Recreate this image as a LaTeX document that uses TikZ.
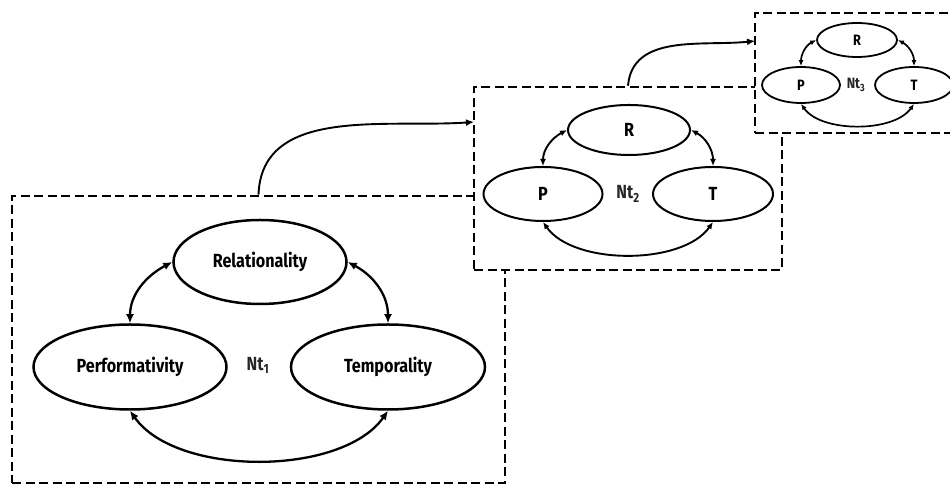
\documentclass[tikz,border=0pt]{standalone}
\usepackage{fontspec}
\setmainfont{Fira Sans}[FakeStretch=0.85]
\usetikzlibrary{shapes.geometric,arrows.meta}
\begin{document}
\begin{tikzpicture}[x=1pt,y=1pt,
  frame/.style={draw,dashed,dash pattern=on 9pt off 4.5pt,line width=2.6pt,fill=white,inner sep=0pt},
  ell/.style={draw,ellipse,inner sep=0pt,fill=white,font=\bfseries\fontsize{19}{22}\selectfont},
  ellA/.style={ell,line width=2.5pt},
  ellB/.style={ell,line width=2pt},
  ellC/.style={ell,line width=1.8pt,font=\bfseries\fontsize{15}{18}\selectfont},
  lab/.style={inner sep=0pt,text=black!85,font=\bfseries\fontsize{19}{22}\selectfont},
  tipA/.style={{Latex[length=9pt,width=8pt]}-{Latex[length=9pt,width=8pt]},line width=2.3pt},
  tipB/.style={{Latex[length=7pt,width=6pt]}-{Latex[length=7pt,width=6pt]},line width=1.9pt},
  tipC/.style={{Latex[length=6pt,width=5pt]}-{Latex[length=6pt,width=5pt]},line width=1.7pt},
  link/.style={-{Latex[length=8pt,width=7pt]},line width=1.9pt}
]
\clip (0,0) rectangle (950,486);
\useasboundingbox (0,0) rectangle (950,486);
% box 1
\node[frame,minimum width=493pt,minimum height=287pt] (b1) at (258.5,146.5) {};
\node[ellA,minimum width=173pt,minimum height=84pt] (r1) at (260,224) {Relationality};
\node[ellA,minimum width=193pt,minimum height=85pt] (p1) at (130,119) {Performativity};
\node[ellA,minimum width=194pt,minimum height=85pt] (t1) at (388,119) {Temporality};
\node[lab] (n1) at (258,121) {Nt\textsubscript{1}};
\draw[tipA] (r1.west) to[out=208,in=90] (p1.north);
\draw[tipA] (r1.east) to[out=-28,in=90] (t1.north);
\draw[tipA] (p1.south) to[out=-55,in=-125,looseness=0.8] (t1.south);
% box 2
\node[frame,minimum width=308pt,minimum height=183pt] (b2) at (628,307.5) {};
\node[ellB,minimum width=122pt,minimum height=50pt] (r2) at (629,356) {R};
\node[ellB,minimum width=119pt,minimum height=54pt] (p2) at (543,292) {P};
\node[ellB,minimum width=120pt,minimum height=54pt] (t2) at (713,292) {T};
\node[lab] (n2) at (628,292) {Nt\textsubscript{2}};
\draw[tipB] (r2.west) to[out=208,in=90] (p2.north);
\draw[tipB] (r2.east) to[out=-28,in=90] (t2.north);
\draw[tipB] (p2.south) to[out=-55,in=-125,looseness=0.8] (t2.south);
% box 3
\node[frame,minimum width=205pt,minimum height=120pt] (b3) at (857.5,413) {};
\node[ellC,minimum width=80pt,minimum height=34pt] (r3) at (857,446) {R};
\node[ellC,minimum width=78pt,minimum height=36pt] (p3) at (801,401) {P};
\node[ellC,minimum width=78pt,minimum height=36pt] (t3) at (914,401) {T};
\node[lab,font=\bfseries\fontsize{15}{18}\selectfont] (n3) at (856,401) {Nt\textsubscript{3}};
\draw[tipC] (r3.west) to[out=208,in=90] (p3.north);
\draw[tipC] (r3.east) to[out=-28,in=90] (t3.north);
\draw[tipC] (p3.south) to[out=-55,in=-125,looseness=0.8] (t3.south);
% links between boxes
\coordinate (e2) at (474,364);
\coordinate (e3) at (755,445);
\draw[link] (b1.north) to[out=88,in=184] (e2);
\draw[link] (b2.north) to[out=85,in=186] (e3);
\end{tikzpicture}
\end{document}
